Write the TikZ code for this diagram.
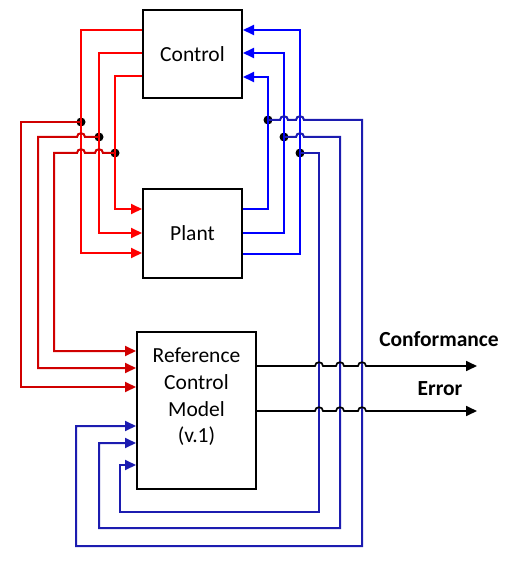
\documentclass[tikz,border=0pt]{standalone}
\usepackage{fontspec}
\setmainfont{Carlito}
\usetikzlibrary{arrows.meta}
\definecolor{rA}{HTML}{FF0000}
\definecolor{rB}{HTML}{D00000}
\definecolor{bA}{HTML}{0000FF}
\definecolor{bB}{HTML}{1C1CB0}
\begin{document}
\begin{tikzpicture}[x=1pt,y=-1pt,
  box/.style={draw=black, line width=2pt, fill=white, inner sep=0pt},
  txt/.style={align=center, font=\fontsize{21.5}{26.7}\selectfont, inner sep=0pt},
  btxt/.style={font=\bfseries\fontsize{21.5}{26.7}\selectfont, inner sep=0pt},
  wire/.style={line width=2pt},
  owire/.style={line width=1.7pt, black},
  arr/.style={-{Triangle[length=11pt,width=10pt]}},
  jdot/.style={circle, fill=black, inner sep=0pt, minimum size=9pt}]
\useasboundingbox (0,0) rectangle (508,564);
% boxes
\node[box, minimum width=99pt, minimum height=88pt] (ctrl) at (192.5,54) {};
\node[txt] (ctrlt) at (192.5,54) {Control};
\node[box, minimum width=99pt, minimum height=89pt] (plant) at (192.5,233.5) {};
\node[txt] (plantt) at (192.5,233) {Plant};
\node[box, minimum width=119pt, minimum height=157pt] (ref) at (196.5,410.5) {};
\node[txt] (reft) at (196.5,397) {Reference\\Control\\Model\\(v.1)};
% junctions
\node[jdot] (r1) at (81,122) {};
\node[jdot] (r2) at (99,137) {};
\node[jdot] (r3) at (115,153) {};
\node[jdot] (b1) at (268,120) {};
\node[jdot] (b2) at (284,137) {};
\node[jdot] (b3) at (300,153) {};
% control -> plant (red)
\draw[wire, rA, arr] (ctrl.west |- 0,30) -- (81,30) -- (81,253) -- (plant.west |- 0,253);
\draw[wire, rA, arr] (ctrl.west |- 0,53) -- (99,53) -- (99,233) -- (plant.west |- 0,233);
\draw[wire, rA, arr] (ctrl.west |- 0,76) -- (115,76) -- (115,209) -- (plant.west |- 0,209);
% taps to reference model (dark red)
\draw[wire, rB, arr] (r1.center) -- (21,122) -- (21,387) -- (ref.west |- 0,387);
\draw[wire, rB, arr] (r2.center) -- (85,137) .. controls +(0,-5) and +(0,-5) .. (77,137)
   -- (38,137) -- (38,368) -- (ref.west |- 0,368);
\draw[wire, rB, arr] (r3.center) -- (103,153) .. controls +(0,-5) and +(0,-5) .. (95,153)
   -- (85,153) .. controls +(0,-5) and +(0,-5) .. (77,153)
   -- (54,153) -- (54,351) -- (ref.west |- 0,351);
% plant -> control (blue)
\draw[wire, bA, arr] (plant.east |- 0,209) -- (268,209) -- (268,77) -- (ctrl.east |- 0,77);
\draw[wire, bA, arr] (plant.east |- 0,233) -- (284,233) -- (284,53) -- (ctrl.east |- 0,53);
\draw[wire, bA, arr] (plant.east |- 0,254) -- (300,254) -- (300,30) -- (ctrl.east |- 0,30);
% taps to reference model (dark blue)
\draw[wire, bB, arr] (b1.center) -- (280,120) .. controls +(0,-5) and +(0,-5) .. (288,120)
   -- (296,120) .. controls +(0,-5) and +(0,-5) .. (304,120)
   -- (362,120) -- (362,546) -- (76,546) -- (76,426) -- (ref.west |- 0,426);
\draw[wire, bB, arr] (b2.center) -- (296,137) .. controls +(0,-5) and +(0,-5) .. (304,137)
   -- (340,137) -- (340,528) -- (99,528) -- (99,443) -- (ref.west |- 0,443);
\draw[wire, bB, arr] (b3.center) -- (319,153) -- (319,512) -- (120,512) -- (120,465) -- (ref.west |- 0,465);
% outputs
\coordinate (o1) at (477,366);
\coordinate (o2) at (477,411);
\draw[owire, arr] (ref.east |- o1) -- (315,366) .. controls +(0,-5) and +(0,-5) .. (323,366)
   -- (336,366) .. controls +(0,-5) and +(0,-5) .. (344,366)
   -- (358,366) .. controls +(0,-5) and +(0,-5) .. (366,366) -- (o1);
\draw[owire, arr] (ref.east |- o2) -- (315,411) .. controls +(0,-5) and +(0,-5) .. (323,411)
   -- (336,411) .. controls +(0,-5) and +(0,-5) .. (344,411)
   -- (358,411) .. controls +(0,-5) and +(0,-5) .. (366,411) -- (o2);
\node[btxt] (conf) at (439,339) {Conformance};
\node[btxt] (err) at (440,389) {Error};
\end{tikzpicture}
\end{document}
